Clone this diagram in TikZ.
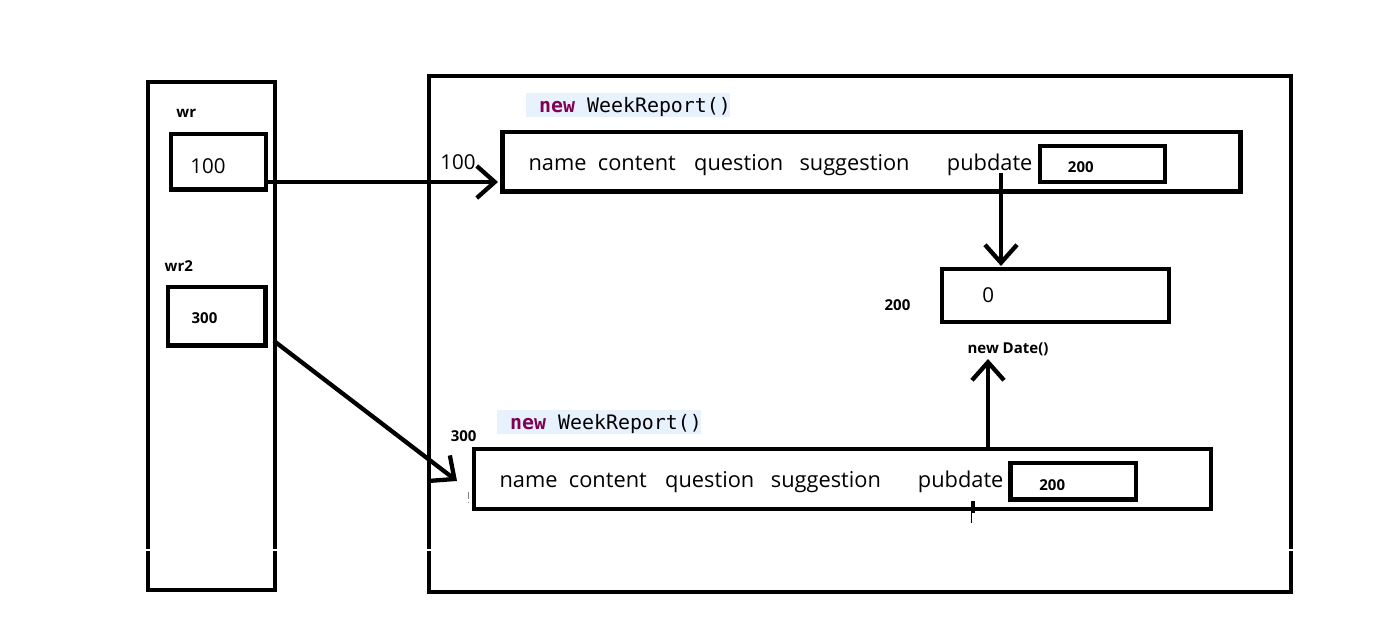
\documentclass[tikz,border=0pt]{standalone}
\usepackage{fontspec}
\setmainfont{Open Sans}
\newfontfamily\codefont{DejaVu Sans Mono}
\usetikzlibrary{arrows.meta,calc}
\definecolor{kwpurple}{HTML}{7F0055}
\definecolor{hlblue}{HTML}{E8F2FE}
\tikzset{
  box/.style={draw=black, line width=4.3pt, inner sep=0pt, outer sep=0pt},
  word/.style={anchor=base west, inner sep=0pt, font=\fontsize{21.8}{26}\selectfont},
  big/.style={anchor=base, inner sep=0pt, font=\fontsize{20.5}{24}\selectfont},
  lbl/.style={anchor=base, inner sep=0pt, font=\fontsize{15}{18}\selectfont\bfseries},
  hl/.style={fill=hlblue, inner sep=0pt, outer sep=0pt},
  code/.style={anchor=base west, inner sep=0pt, font=\fontsize{19.9}{24}\codefont},
  arr/.style={line width=4.3pt, -{Straight Barb[length=18pt,width=32pt]}},
  gap/.style={draw=white, line width=1.2pt}
}
\begin{document}
\begin{tikzpicture}[x=1pt, y=-1pt]
\useasboundingbox (0,0) rectangle (1375,637);
% stack
\node[box, minimum width=127.3, minimum height=508] (stack) at (211.6,336.3) {};
\node[lbl] (wrl) at (186.3,117.3) {wr};
\node[box, minimum width=95, minimum height=55.5] (wr) at (218.5,161.8) {};
\node[big] (wrv) at (208,173.3) {100};
\node[lbl] (wr2l) at (178.8,271) {wr2};
\node[box, minimum width=97.5, minimum height=58.5] (wr2) at (216.8,316.3) {};
\node[lbl] (wr2v) at (204.5,323.3) {300};
% heap
\node[box, minimum width=862, minimum height=516] (heap) at (860,334) {};
% first object
\node[hl, minimum width=204, minimum height=23.5] (h1) at (628,105) {};
\node[code] (c1) at (539,112.3) {\textcolor{kwpurple}{\textbf{new}} WeekReport()};
\node[box, minimum width=738, minimum height=59.3] (o1) at (871.5,161.7) {};
\node[big] (a1) at (458,169.3) {100};
\node[word] (n1) at (528.3,170) {name};
\node[word] (t1) at (597.7,170) {content};
\node[word] (q1) at (694,170) {question};
\node[word] (s1) at (799.3,170) {suggestion};
\node[word] (p1) at (946.7,170) {pubdate};
\node[box, minimum width=125.3, minimum height=36] (i1) at (1102.4,164) {};
\node[lbl] (v1) at (1080.8,172.7) {200};
% date object
\node[box, minimum width=227, minimum height=52.9] (d) at (1055.5,295.3) {};
\node[big] (dv) at (988.3,302.7) {0};
\node[lbl] (da) at (897.5,310.7) {200};
\node[lbl] (nd) at (1008,353.3) {new Date()};
% second object
\node[hl, minimum width=204, minimum height=24] (h2) at (599,422) {};
\node[code] (c2) at (510,429) {\textcolor{kwpurple}{\textbf{new}} WeekReport()};
\node[lbl] (a2) at (463.7,441.7) {300};
\node[box, minimum width=737.3, minimum height=60] (o2) at (842.4,478.8) {};
\node[word] (n2) at (499.3,487.3) {name};
\node[word] (t2) at (568.7,487.3) {content};
\node[word] (q2) at (665,487.3) {question};
\node[word] (s2) at (770.7,487.3) {suggestion};
\node[word] (p2) at (917.7,487.3) {pubdate};
\node[box, minimum width=125.5, minimum height=36.5] (i2) at (1073.3,481.3) {};
\node[lbl] (v2) at (1052.2,490) {200};
% connectors
\coordinate (e1) at (498,182);
\draw[arr] (wr.east |- e1) -- (e1);
\coordinate (pd) at (1001,173);
\coordinate (pdt) at (1001,266);
\draw[arr] (pd) -- (pdt);
\coordinate (up) at (988,359);
\draw[arr] (o2.north -| up) -- (up);
\coordinate (s0) at (274,341);
\coordinate (e2) at (457,481);
\draw[arr] (s0) -- (e2);
% small marks
\draw[line width=4pt] (972.5,501) -- (972.5,513);
\draw[line width=1pt] (971,513) -- (971,523);
\draw[line width=0.8pt, gray] (468,492) -- (468,499) (468,501.5) -- (468,503);
% gaps in the side lines
\draw[gap] (140,550) -- (156,550) (266,550) -- (284,550);
\draw[gap] (420,550) -- (438,550) (1282,550) -- (1300,550);
\end{tikzpicture}
\end{document}
